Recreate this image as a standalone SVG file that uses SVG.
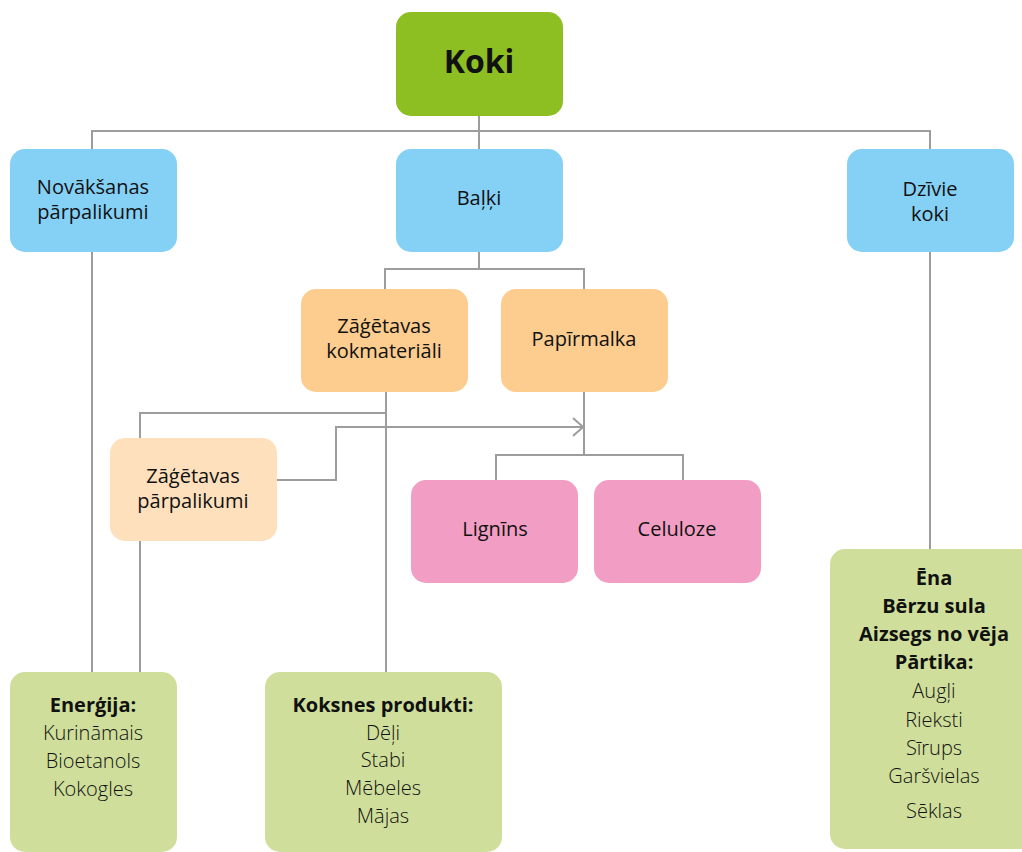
<svg xmlns="http://www.w3.org/2000/svg" width="1022" height="852" viewBox="0 0 1022 852">
  <style>
    .box { stroke: none; }
    .root { fill: #8dbe22; }
    .blue { fill: #85d0f5; }
    .orange { fill: #fdcc8f; }
    .peach { fill: #fee0bc; }
    .pink { fill: #f29ec4; }
    .lime { fill: #cfdf9b; }
    text { font-family: "Open Sans", "Noto Sans", "DejaVu Sans", sans-serif; font-size: 20px; fill: #111; text-anchor: middle; }
    .b { font-weight: 700; }
    .l { font-weight: 300; }
    .title { font-size: 32px; font-weight: 700; }
    .wire { fill: none; stroke: #9d9d9d; stroke-width: 2; }
  </style>
  <defs>
    <marker id="chev" viewBox="0 0 12 20" refX="11" refY="10" markerWidth="12" markerHeight="20" markerUnits="userSpaceOnUse" orient="auto">
      <path d="M1,1 L11,10 L1,19" fill="none" stroke="#9d9d9d" stroke-width="2"/>
    </marker>
  </defs>
  <rect width="1022" height="852" fill="#ffffff"/>

  <g id="connectors" class="wire">
    <path d="M479,116 V149"/>
    <path d="M92,149 V131 H930 V149"/>
    <path d="M479,252 V269"/>
    <path d="M385,289 V269 H584 V289"/>
    <path d="M386,392 V672"/>
    <path d="M386,413 H140 V438"/>
    <path d="M277,480 H336 V427 H583" marker-end="url(#chev)"/>
    <path d="M584,392 V455"/>
    <path d="M496,480 V455 H683 V480"/>
    <path d="M92,252 V672"/>
    <path d="M140,541 V672"/>
    <path d="M930,252 V549"/>
  </g>

  <g id="koki">
    <rect class="box root" x="396" y="12" width="167" height="104" rx="15"/>
    <text class="title" x="479" y="73">Koki</text>
  </g>

  <g id="novaksanas">
    <rect class="box blue" x="10" y="149" width="167" height="103" rx="15"/>
    <text x="93" y="194">Novākšanas</text>
    <text x="93" y="219">pārpalikumi</text>
  </g>

  <g id="balki">
    <rect class="box blue" x="396" y="149" width="167" height="103" rx="15"/>
    <text x="479" y="205">Baļķi</text>
  </g>

  <g id="dzivie">
    <rect class="box blue" x="847" y="149" width="167" height="103" rx="15"/>
    <text x="930" y="196">Dzīvie</text>
    <text x="930" y="221">koki</text>
  </g>

  <g id="kokmateriali">
    <rect class="box orange" x="301" y="289" width="167" height="103" rx="15"/>
    <text x="384" y="333">Zāģētavas</text>
    <text x="384" y="358">kokmateriāli</text>
  </g>

  <g id="papirmalka">
    <rect class="box orange" x="501" y="289" width="167" height="103" rx="15"/>
    <text x="584" y="346">Papīrmalka</text>
  </g>

  <g id="zpparpalikumi">
    <rect class="box peach" x="110" y="438" width="167" height="103" rx="15"/>
    <text x="193" y="483">Zāģētavas</text>
    <text x="193" y="508">pārpalikumi</text>
  </g>

  <g id="lignins">
    <rect class="box pink" x="411" y="480" width="167" height="103" rx="15"/>
    <text x="495" y="536">Lignīns</text>
  </g>

  <g id="celuloze">
    <rect class="box pink" x="594" y="480" width="167" height="103" rx="15"/>
    <text x="677" y="536">Celuloze</text>
  </g>

  <g id="energija">
    <rect class="box lime" x="10" y="672" width="167" height="180" rx="15"/>
    <text class="b" x="93" y="712">Enerģija:</text>
    <text class="l" x="93" y="740">Kurināmais</text>
    <text class="l" x="93" y="768">Bioetanols</text>
    <text class="l" x="93" y="796">Kokogles</text>
  </g>

  <g id="koksnes">
    <rect class="box lime" x="265" y="672" width="237" height="180" rx="15"/>
    <text class="b" x="383" y="712">Koksnes produkti:</text>
    <text class="l" x="383" y="740">Dēļi</text>
    <text class="l" x="383" y="767">Stabi</text>
    <text class="l" x="383" y="795">Mēbeles</text>
    <text class="l" x="383" y="823">Mājas</text>
  </g>

  <g id="dzivie-nauda">
    <rect class="box lime" x="830" y="549" width="210" height="300" rx="15"/>
    <text class="b" x="934" y="585">Ēna</text>
    <text class="b" x="934" y="613">Bērzu sula</text>
    <text class="b" x="934" y="641">Aizsegs no vēja</text>
    <text class="b" x="934" y="669">Pārtika:</text>
    <text class="l" x="934" y="698">Augļi</text>
    <text class="l" x="934" y="727">Rieksti</text>
    <text class="l" x="934" y="755">Sīrups</text>
    <text class="l" x="934" y="783">Garšvielas</text>
    <text class="l" x="934" y="818">Sēklas</text>
  </g>
</svg>
